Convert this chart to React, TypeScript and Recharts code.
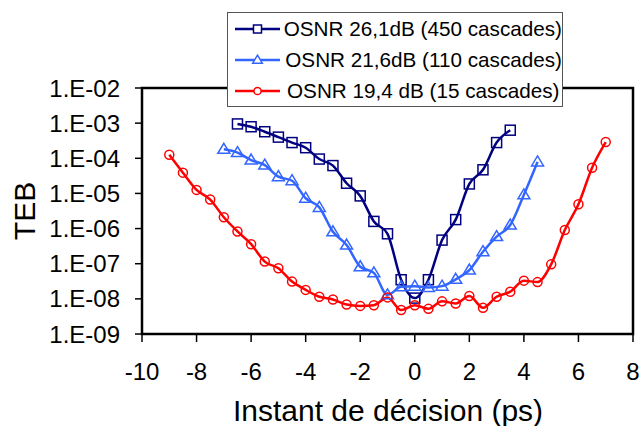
import React from 'react';
import { LineChart, Line, XAxis, YAxis, ReferenceArea, Legend, Label } from 'recharts';

const xDark = [-6.5, -6, -5.5, -5, -4.5, -4, -3.5, -3, -2.5, -2, -1.5, -1, -0.5, 0, 0.5, 1, 1.5, 2, 2.5, 3, 3.5];
const tebDark = [9.5e-4, 7.9e-4, 5.7e-4, 4.0e-4, 2.8e-4, 2.0e-4, 9.5e-5, 6.2e-5, 1.95e-5, 8.5e-6, 1.6e-6, 7.1e-7, 3.5e-8, 1.05e-8, 3.5e-8, 4.7e-7, 1.8e-6, 1.86e-5, 4.7e-5, 2.8e-4, 6.3e-4];

const xLight = [-7, -6.5, -6, -5.5, -5, -4.5, -4, -3.5, -3, -2.5, -2, -1.5, -1, -0.5, 0, 0.5, 1, 1.5, 2, 2.5, 3, 3.5, 4, 4.5];
const tebLight = [1.8e-4, 1.45e-4, 8.9e-5, 6.4e-5, 3.0e-5, 2.3e-5, 7.3e-6, 4.0e-6, 8.1e-7, 3.4e-7, 8.2e-8, 5.5e-8, 1.3e-8, 2.2e-8, 2.3e-8, 2.1e-8, 2.3e-8, 3.6e-8, 6.6e-8, 2.2e-7, 5.9e-7, 1.26e-6, 9.1e-6, 7.9e-5];

const xRed = [-9, -8.5, -8, -7.5, -7, -6.5, -6, -5.5, -5, -4.5, -4, -3.5, -3, -2.5, -2, -1.5, -1, -0.5, 0, 0.5, 1, 1.5, 2, 2.5, 3, 3.5, 4, 4.5, 5, 5.5, 6, 6.5, 7];
const tebRed = [1.26e-4, 3.9e-5, 1.26e-5, 6.7e-6, 2.1e-6, 8.3e-7, 3.6e-7, 1.15e-7, 7.4e-8, 3.1e-8, 1.8e-8, 1.15e-8, 9.6e-9, 6.9e-9, 6.3e-9, 6.6e-9, 1.1e-8, 4.8e-9, 6.6e-9, 5.2e-9, 8.5e-9, 7.4e-9, 1.2e-8, 5.6e-9, 1.15e-8, 1.6e-8, 3.3e-8, 3.0e-8, 9.6e-8, 9.1e-7, 4.9e-6, 5.4e-5, 2.9e-4];

const seriesNames = ['OSNR 26,1dB (450 cascades)', 'OSNR 21,6dB (110 cascades)', 'OSNR 19,4 dB (15 cascades)'];
const xTicks = [-10, -8, -6, -4, -2, 0, 2, 4, 6, 8];
const yTicks = [1e-9, 1e-8, 1e-7, 1e-6, 1e-5, 1e-4, 1e-3, 1e-2];
const xTitle = 'Instant de décision (ps)';
const yTitle = 'TEB';

const DARK = '#000080';
const LIGHT = '#3366FF';
const RED = '#FF0000';
const FONT = '"Liberation Sans", Arial, sans-serif';

const zip = (xs: number[], ys: number[]) => xs.map((x, i) => ({ x, teb: ys[i] }));
const darkData = zip(xDark, tebDark);
const lightData = zip(xLight, tebLight);
const redData = zip(xRed, tebRed);

const fmtY = (v: number) => {
  const e = Math.round(Math.log10(v));
  const s = e < 0 ? '-' : '+';
  return '1.E' + s + String(Math.abs(e)).padStart(2, '0');
};

const Marker = ({ kind, cx, cy, color, size = 1, fill = 'none' }: any) => {
  if (cx == null || cy == null) return null;
  if (kind === 'square') {
    const h = 5 * size;
    return <rect x={cx - h} y={cy - h} width={2 * h} height={2 * h} fill={fill} stroke={color} strokeWidth={1.5} />;
  }
  if (kind === 'triangle') {
    const w = 6 * size, hh = 10 * size;
    return (
      <polygon
        points={`${cx},${cy - hh * 0.6} ${cx + w},${cy + hh * 0.4} ${cx - w},${cy + hh * 0.4}`}
        fill={fill} stroke={color} strokeWidth={1.5} />
    );
  }
  return <circle cx={cx} cy={cy} r={4.5 * size} fill={fill} stroke={color} strokeWidth={1.5} />;
};

const mkDot = (kind: string, color: string) => (p: any) => (
  <g key={`${kind}-${p.index}`}>
    <Marker kind={kind} cx={p.cx} cy={p.cy} color={color} />
  </g>
);

const legendItems = [
  { name: seriesNames[0], color: DARK, kind: 'square' },
  { name: seriesNames[1], color: LIGHT, kind: 'triangle' },
  { name: seriesNames[2], color: RED, kind: 'circle' },
];

const LegendBox = () => (
  <div style={{
    width: 336, height: 95, boxSizing: 'border-box', border: '1px solid #555', background: '#fff',
    fontFamily: FONT, fontSize: 20.7, color: '#000',
  }}>
    {legendItems.map((it) => (
      <div key={it.name} style={{ height: 31, display: 'flex', alignItems: 'center', whiteSpace: 'nowrap' }}>
        <svg width={52} height={20} style={{ marginLeft: 7, display: 'block' }}>
          <line x1={0} y1={10} x2={45} y2={10} stroke={it.color} strokeWidth={2.5} />
          <Marker kind={it.kind} cx={22.5} cy={10} color={it.color} size={0.8} fill="#fff" />
        </svg>
        <span style={{ lineHeight: '31px' }}>{it.name}</span>
      </div>
    ))}
  </div>
);

export default function App() {
  return (
    <div style={{ position: 'absolute', left: 0, top: 0, width: 641, height: 426, background: '#fff', fontFamily: FONT }}>
      <LineChart width={641} height={426} margin={{ top: 88, right: 8, bottom: 0, left: 0 }}>
        <XAxis
          type="number" dataKey="x" domain={[-10, 8]} ticks={xTicks} allowDataOverflow
          axisLine={false} tickSize={8} tickMargin={21} height={92}
          tickLine={{ stroke: '#000', strokeWidth: 1.5 }}
          tick={{ fontSize: 24, fill: '#000', fontFamily: FONT }}
        >
          <Label
            content={() => (
              <text x={388} y={421} textAnchor="middle" fontSize={30} fill="#000" fontFamily={FONT}>{xTitle}</text>
            )}
          />
        </XAxis>
        <YAxis
          type="number" scale="log" domain={[1e-9, 1e-2]} ticks={yTicks} allowDataOverflow
          axisLine={false} tickSize={7} tickMargin={15} width={142}
          tickLine={{ stroke: '#000', strokeWidth: 1.5 }}
          tickFormatter={fmtY}
          tick={{ fontSize: 24, fill: '#000', fontFamily: FONT }}
        >
          <Label
            content={() => (
              <text x={35} y={211} transform="rotate(-90, 35, 211)" textAnchor="middle" fontSize={30} fill="#000" fontFamily={FONT}>{yTitle}</text>
            )}
          />
        </YAxis>
        <ReferenceArea x1={-10} x2={8} y1={1e-9} y2={1e-2} fill="none" stroke="#000" strokeWidth={2.5} ifOverflow="visible" />
        <Line data={darkData} dataKey="teb" name={seriesNames[0]} type="monotone" stroke={DARK} strokeWidth={2.5}
          dot={mkDot('square', DARK)} activeDot={false} isAnimationActive={false} />
        <Line data={lightData} dataKey="teb" name={seriesNames[1]} type="monotone" stroke={LIGHT} strokeWidth={2.5}
          dot={mkDot('triangle', LIGHT)} activeDot={false} isAnimationActive={false} />
        <Line data={redData} dataKey="teb" name={seriesNames[2]} type="monotone" stroke={RED} strokeWidth={2.5}
          dot={mkDot('circle', RED)} activeDot={false} isAnimationActive={false} />
        <Legend
          layout="vertical" align="center" verticalAlign="middle"
          content={() => <LegendBox />}
          wrapperStyle={{ left: 227, top: 12, width: 336, height: 95, right: 'auto', bottom: 'auto', margin: 0 }}
        />
      </LineChart>
    </div>
  );
}
